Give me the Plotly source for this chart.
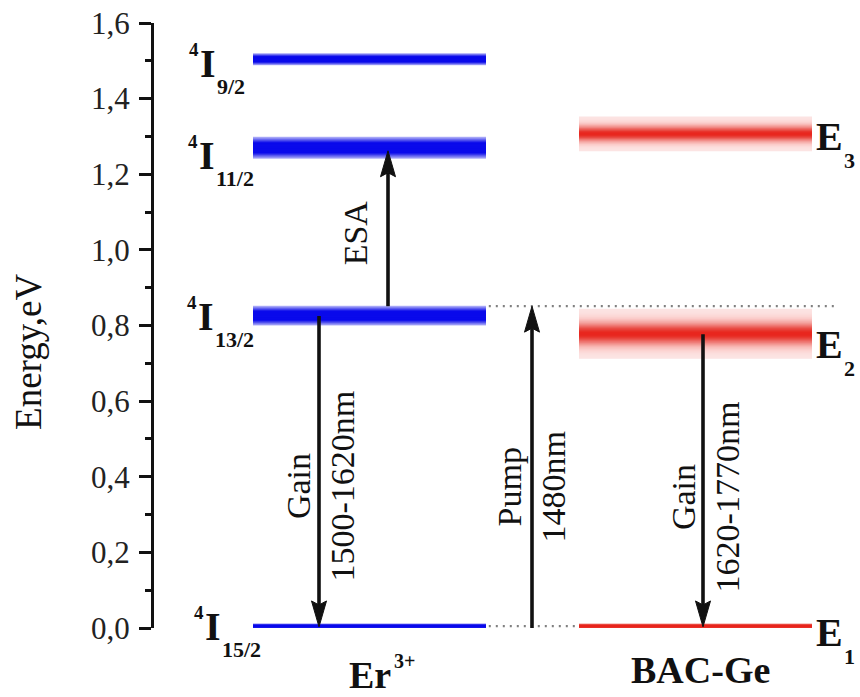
import math
import plotly.graph_objects as go

# ---- level data (eV): centre energy and half-spread of each band ----
er_terms = ["15/2", "13/2", "11/2", "9/2"]
er_energy = [0.005, 0.826, 1.270, 1.504]
er_spread = [0.007, 0.026, 0.029, 0.016]

bac_terms = ["1", "2", "3"]
bac_energy = [0.005, 0.778, 1.307]
bac_spread = [0.007, 0.066, 0.046]

# ---- optical transitions: label, start energy, end energy (eV) ----
trans_text = ["ESA", "Gain<br>1500-1620nm", "Pump<br>1480nm", "Gain<br>1620-1770nm"]
trans_from = [0.851, 0.825, 0.0, 0.777]
trans_to = [1.262, 0.003, 0.851, 0.003]

# dotted guide lines at the pump level and the ground level (eV)
guide_energy = [0.851, 0.005]

# ---- axis ticks ----
tick_vals = [0.0, 0.2, 0.4, 0.6, 0.8, 1.0, 1.2, 1.4, 1.6]
tick_text = ["0,0", "0,2", "0,4", "0,6", "0,8", "1,0", "1,2", "1,4", "1,6"]
host_names = ["Er", "BAC-Ge"]

# ---- page geometry ----
W, H = 860, 697
ML, MR, MT, MB = 154, 6, 21, 69
PW, PH = W - ML - MR, H - MT - MB
Y0, Y1 = 0.0, 1.6
EV_PX = PH / (Y1 - Y0)


def px_x(px):
    return (px - ML) / PW


def px_y(py):
    return (H - MB - py) / PH


SERIF = "Liberation Serif, Times New Roman, serif"
INK = "#111111"

ER_X = (px_x(253), px_x(486))
BAC_X = (px_x(579), px_x(812))
TRANS_X = [px_x(388), px_x(319), px_x(532), px_x(703)]
TRANS_LABEL_POS = [(355, 232), (320, 486), (531, 487), (705, 497)]

BLUE = (10, 10, 235)
RED = (232, 38, 30)

fig = go.Figure()
shapes = []
annotations = []


def blue_profile(t):
    if t < 0.45:
        return 1.0
    return 1.0 - 0.72 * (t - 0.45) / 0.55


def red_profile(t):
    return 0.12 + 0.88 * math.exp(-(t / 0.42) ** 2)


def add_band(x0, x1, yc, half, rgb, profile, n=24):
    # nested rectangles whose stacked opacity follows the band profile
    targets = [profile((j - 0.5) / n) for j in range(1, n + 1)]
    for j in range(1, n):
        targets[n - 1 - j] = max(targets[n - 1 - j], targets[n - j])
    alphas = [0.0] * n
    remain = 1.0
    for j in range(n - 1, -1, -1):
        a = 1.0 - (1.0 - targets[j]) / remain if remain > 1e-9 else 1.0
        a = min(max(a, 0.0), 1.0)
        alphas[j] = a
        remain *= (1.0 - a)
    for j in range(n - 1, -1, -1):
        r = (j + 1) / n * half
        shapes.append(dict(
            type="rect", xref="x", yref="y", x0=x0, x1=x1,
            y0=yc - r, y1=yc + r, line=dict(width=0),
            fillcolor="rgba(%d,%d,%d,%.4f)" % (rgb[0], rgb[1], rgb[2], alphas[j]),
            layer="below",
        ))


for e, s in zip(er_energy, er_spread):
    add_band(ER_X[0], ER_X[1], e, s, BLUE, blue_profile)
for e, s in zip(bac_energy, bac_spread):
    add_band(BAC_X[0], BAC_X[1], e, s, RED, red_profile if s > 0.02 else blue_profile)

# dotted guides
shapes.append(dict(type="line", xref="x", yref="y", x0=ER_X[1] + 0.004, x1=px_x(838),
                   y0=guide_energy[0], y1=guide_energy[0],
                   line=dict(color="#808080", width=2.2, dash="2px,5px")))
shapes.append(dict(type="line", xref="x", yref="y", x0=ER_X[1] + 0.004, x1=BAC_X[0],
                   y0=guide_energy[1], y1=guide_energy[1],
                   line=dict(color="#808080", width=2.2, dash="2px,5px")))

# transition arrows
HEAD_LEN = 26 / EV_PX
HEAD_HALF = 7.5 / PW
NOTCH = 4 / EV_PX
for x, e0, e1 in zip(TRANS_X, trans_from, trans_to):
    d = 1 if e1 > e0 else -1
    base = e1 - d * HEAD_LEN
    shapes.append(dict(type="line", xref="x", yref="y", x0=x, x1=x, y0=e0,
                       y1=base + d * NOTCH, line=dict(color=INK, width=3.6)))
    path = "M %.5f,%.5f L %.5f,%.5f L %.5f,%.5f L %.5f,%.5f Z" % (
        x, e1, x - HEAD_HALF, base, x, base + d * NOTCH, x + HEAD_HALF, base)
    shapes.append(dict(type="path", xref="x", yref="y", path=path,
                       fillcolor=INK, line=dict(color=INK, width=1)))


def label(px, py, text, size, xanchor="center", angle=0):
    annotations.append(dict(
        x=px_x(px), y=px_y(py), xref="paper", yref="paper", text=text,
        showarrow=False, textangle=angle, xanchor=xanchor, yanchor="middle",
        align="center", font=dict(family=SERIF, size=size, color=INK),
    ))


for txt, (tx, ty) in zip(trans_text, TRANS_LABEL_POS):
    label(tx, ty, txt, 34, angle=-90)

# level labels: 4I_J terms of Er3+
ER_LABEL_X = [213, 205.5, 207, 207.5]
ER_LABEL_DY = [0, 0.5, 8, 4]
for term, e, lx, dy in zip(er_terms, er_energy, ER_LABEL_X, ER_LABEL_DY):
    cy = H - MB - e * EV_PX + dy
    label(lx, cy, "<b>I</b>", 40)
    label(lx - 7, cy - 14, "<b>4</b>", 19, xanchor="right")
    label(lx + 7, cy + 23, "<b>%s</b>" % term, 22, xanchor="left")

# level labels: E_n of BAC-Ge
BAC_LABEL_DY = [6, 11, 3]
for term, e, dy in zip(bac_terms, bac_energy, BAC_LABEL_DY):
    cy = H - MB - e * EV_PX + dy
    label(829, cy, "<b>E</b>", 40)
    label(842, cy + 24, "<b>%s</b>" % term, 22, xanchor="left")

# host labels under the columns
label(370, 675, "<b>%s</b>" % host_names[0], 38)
label(392, 661, "<b>3+</b>", 20, xanchor="left")
label(700, 670, "<b>%s</b>" % host_names[1], 38)

# axis title
label(29, 351, "Energy,eV", 37, angle=-90)

fig.update_layout(
    width=W, height=H,
    margin=dict(l=ML, r=MR, t=MT, b=MB, pad=0),
    paper_bgcolor="white", plot_bgcolor="white",
    showlegend=False,
    shapes=shapes, annotations=annotations,
    xaxis=dict(range=[0, 1], visible=False, fixedrange=True),
    yaxis=dict(
        range=[Y0, Y1], tickvals=tick_vals, ticktext=tick_text,
        ticks="outside", ticklen=12, tickwidth=3, tickcolor=INK,
        showline=True, linewidth=3, linecolor=INK,
        showgrid=False, zeroline=False, ticklabelstandoff=3,
        tickfont=dict(family=SERIF, size=31, color="#222222"),
        minor=dict(dtick=0.1, ticks="outside", ticklen=6, tickwidth=3, tickcolor=INK, showgrid=False),
        fixedrange=True,
    ),
)

fig.write_html("out.html")
